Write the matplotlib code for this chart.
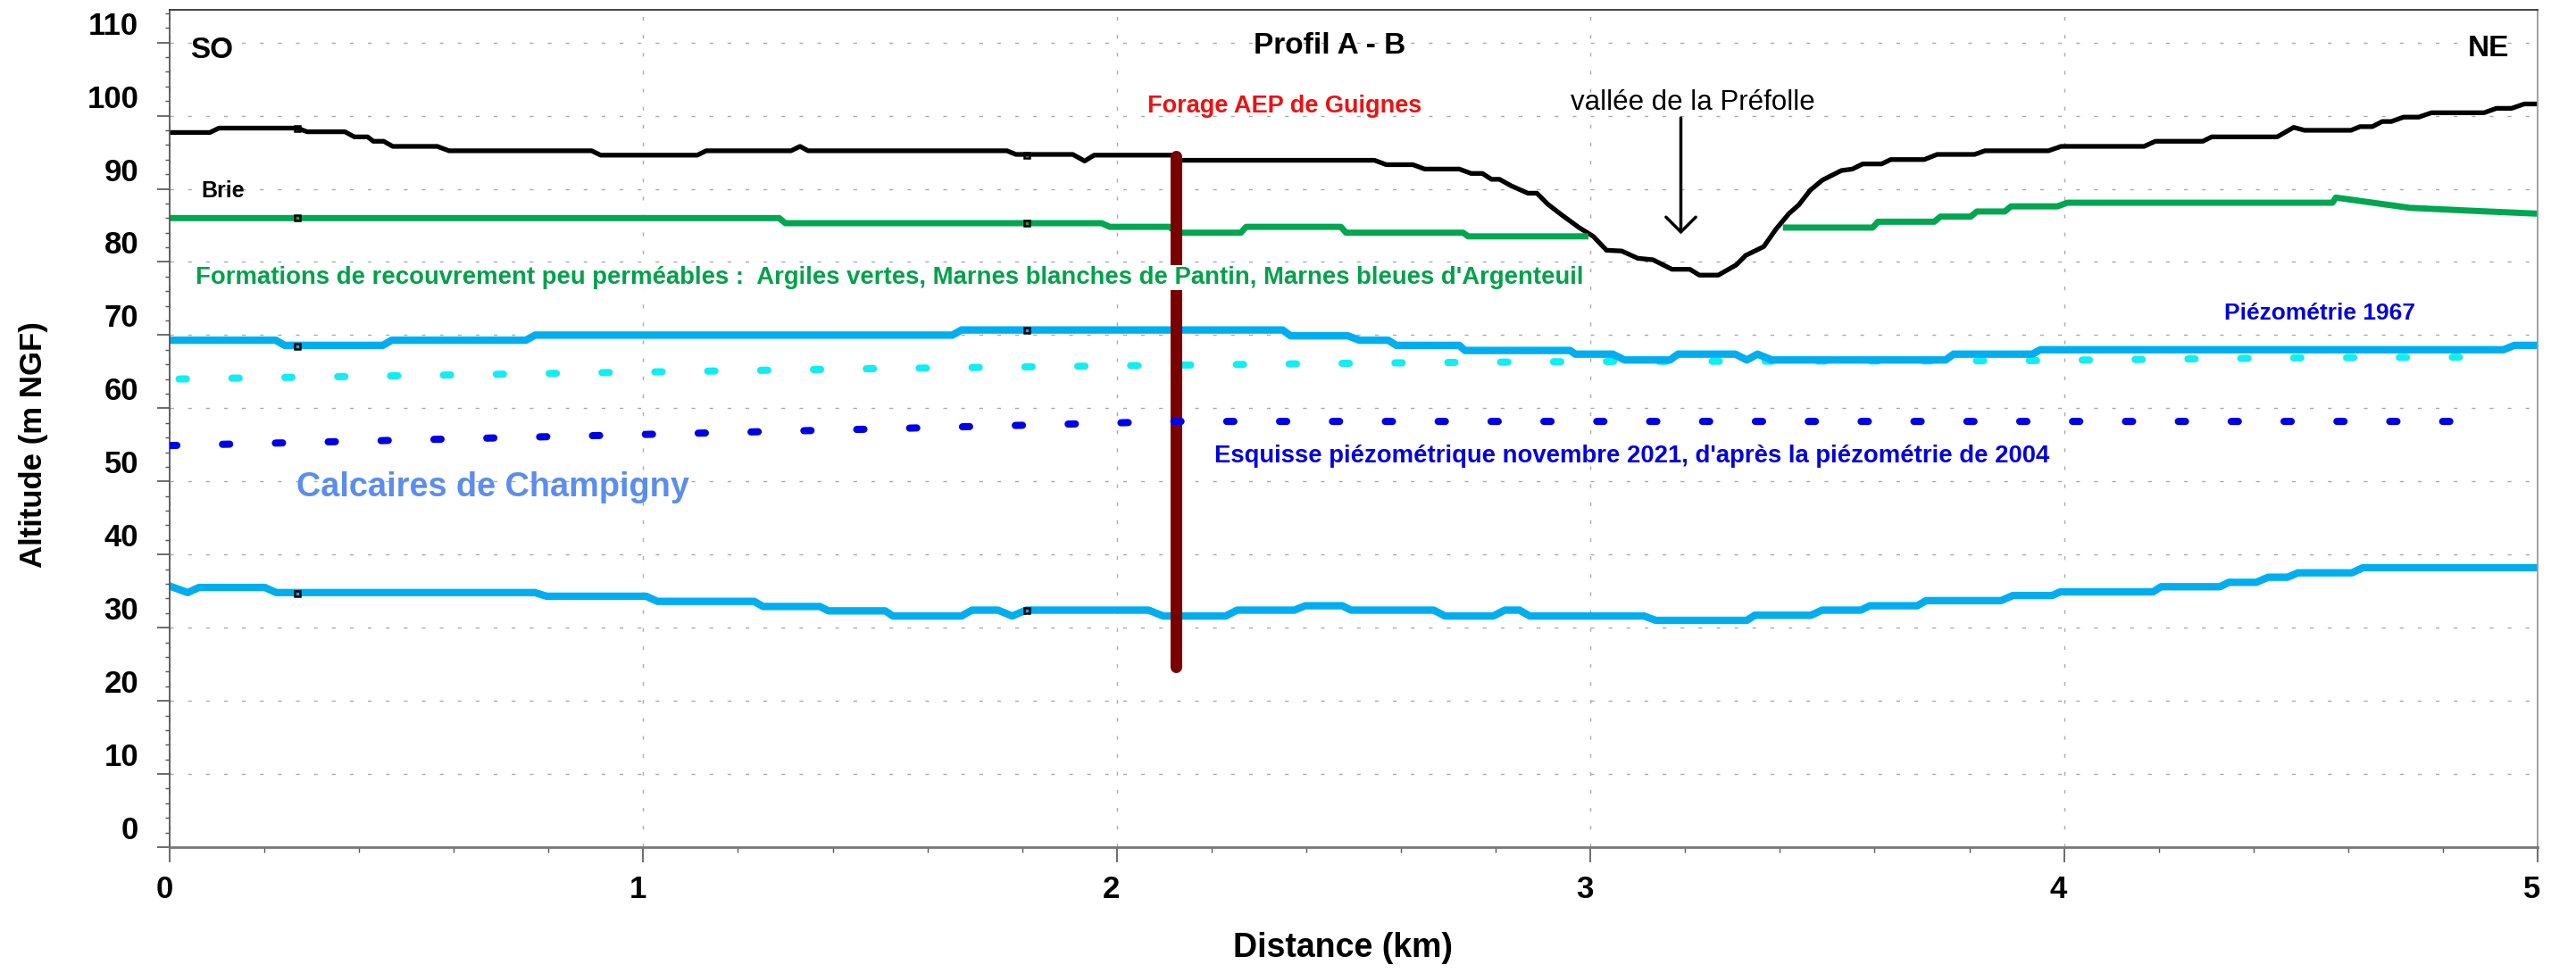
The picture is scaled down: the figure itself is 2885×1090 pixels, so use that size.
import matplotlib
matplotlib.use("Agg")
import matplotlib.pyplot as plt
import matplotlib.transforms as mtransforms
from matplotlib.ticker import MultipleLocator
import numpy as np

plt.rcParams['font.family'] = ['Liberation Sans', 'DejaVu Sans']

# terrain naturel (m NGF) le long du profil
topo_km = [0.0, 0.085, 0.104, 0.27, 0.29, 0.37, 0.39, 0.418, 0.43, 0.452,
           0.471, 0.565, 0.59, 0.891, 0.91, 1.114, 1.133, 1.312, 1.331, 1.348,
           1.768, 1.787, 1.907, 1.932, 1.952, 2.116, 2.133, 2.544, 2.569, 2.625,
           2.65, 2.723, 2.748, 2.772, 2.791, 2.808, 2.833, 2.868, 2.887, 2.91,
           2.94, 2.976, 3.006, 3.034, 3.066, 3.10, 3.132, 3.172, 3.21, 3.23,
           3.27, 3.308, 3.328, 3.366, 3.392, 3.419, 3.44, 3.464, 3.49, 3.53,
           3.553, 3.575, 3.615, 3.634, 3.705, 3.732, 3.811, 3.833, 3.967, 3.994,
           4.169, 4.193, 4.293, 4.312, 4.45, 4.485, 4.508, 4.606, 4.625, 4.651,
           4.672, 4.691, 4.717, 4.749, 4.776, 4.887, 4.913, 4.945, 4.972, 5.0]
topo_m = [97.7, 97.7, 98.3, 98.3, 97.8, 97.8, 97.1, 97.1, 96.5, 96.5,
          95.8, 95.8, 95.2, 95.2, 94.6, 94.6, 95.2, 95.2, 95.8, 95.2,
          95.2, 94.7, 94.7, 93.8, 94.6, 94.6, 93.9, 93.9, 93.3, 93.3,
          92.7, 92.7, 92.1, 92.1, 91.3, 91.3, 90.4, 89.4, 89.4, 87.9,
          86.4, 84.7, 83.5, 81.6, 81.5, 80.5, 80.3, 79.0, 79.0, 78.2,
          78.2, 79.6, 80.9, 82.1, 84.5, 86.6, 87.8, 89.8, 91.2, 92.5,
          92.7, 93.4, 93.4, 94.0, 94.0, 94.7, 94.7, 95.2, 95.2, 95.8,
          95.8, 96.5, 96.5, 97.1, 97.1, 98.4, 98.0, 98.0, 98.5, 98.5,
          99.2, 99.2, 99.8, 99.8, 100.4, 100.4, 101.0, 101.0, 101.6, 101.6]

# toit des formations de recouvrement (interrompu sous la vallee)
recouv_km = [0.0, 1.287, 1.30, 1.968, 1.985, 2.111, 2.126, 2.262, 2.273, 2.473,
             2.484, 2.731, 2.742, 2.989, np.nan, 3.413, 3.596, 3.607, 3.726, 3.739,
             3.803, 3.816, 3.875, 3.888, 3.986, 4.007, 4.567, 4.574, 4.73, 4.861, 5.0]
recouv_m = [86.0, 86.0, 85.3, 85.3, 84.8, 84.8, 84.0, 84.0, 84.8, 84.8,
            84.0, 84.0, 83.5, 83.5, np.nan, 84.7, 84.7, 85.5, 85.5, 86.2,
            86.2, 86.9, 86.9, 87.6, 87.6, 88.1, 88.1, 88.8, 87.4, 87.0, 86.6]

# toit des calcaires de Champigny
toit_km = [0.0, 0.224, 0.243, 0.45, 0.469, 0.752, 0.772, 1.653, 1.672, 2.35,
           2.367, 2.488, 2.512, 2.573, 2.59, 2.723, 2.735, 2.957, 2.968, 3.047,
           3.072, 3.168, 3.185, 3.306, 3.33, 3.353, 3.383, 3.75, 3.767, 3.933,
           3.95, 4.928, 4.951, 5.0]
toit_m = [69.3, 69.3, 68.6, 68.6, 69.3, 69.3, 70.0, 70.0, 70.7, 70.7,
          69.9, 69.9, 69.3, 69.3, 68.6, 68.6, 67.9, 67.9, 67.4, 67.4,
          66.6, 66.6, 67.4, 67.4, 66.6, 67.4, 66.6, 66.6, 67.4, 67.4,
          68.0, 68.0, 68.6, 68.6]

# base des calcaires de Champigny
base_km = [0.0, 0.038, 0.062, 0.201, 0.225, 0.771, 0.796, 1.006, 1.03, 1.234,
           1.253, 1.373, 1.391, 1.511, 1.527, 1.672, 1.694, 1.749, 1.779, 1.809,
           2.067, 2.098, 2.23, 2.254, 2.375, 2.398, 2.476, 2.494, 2.669, 2.693,
           2.795, 2.819, 2.85, 2.872, 3.113, 3.138, 3.33, 3.347, 3.466, 3.489,
           3.571, 3.59, 3.69, 3.709, 3.867, 3.892, 3.975, 3.992, 4.188, 4.205,
           4.329, 4.348, 4.406, 4.431, 4.472, 4.494, 4.608, 4.631, 5.0]
base_m = [35.7, 34.8, 35.5, 35.5, 34.8, 34.8, 34.3, 34.3, 33.6, 33.6,
          32.9, 32.9, 32.3, 32.3, 31.6, 31.6, 32.4, 32.4, 31.6, 32.4,
          32.4, 31.6, 31.6, 32.4, 32.4, 33.0, 33.0, 32.4, 32.4, 31.6,
          31.6, 32.4, 32.4, 31.6, 31.6, 31.0, 31.0, 31.7, 31.7, 32.4,
          32.4, 33.0, 33.0, 33.7, 33.7, 34.4, 34.4, 34.9, 34.9, 35.6,
          35.6, 36.2, 36.2, 36.9, 36.9, 37.5, 37.5, 38.2, 38.2]

# piezometries
piezo1967_km = [0.02, 1.47, 2.13, 2.58, 3.02, 3.9, 4.5, 4.93]
piezo1967_m = [64.0, 65.4, 65.9, 66.2, 66.4, 66.5, 66.9, 67.0]
piezo2021_km = [0.0, 1.45, 2.12, 4.91]
piezo2021_m = [54.9, 57.1, 58.2, 58.2]

# forage AEP
forage_km = [2.124, 2.124]
forage_m = [94.5, 24.7]

# petits reperes sur les couches
repere_km = [0.27, 1.81]
repere_topo = [98.3, 94.6]
repere_recouv = [86.0, 85.3]
repere_toit = [68.5, 70.6]
repere_base = [34.7, 32.4]

W, H = 2885, 1090
fig = plt.figure(figsize=(W / 100, H / 100), dpi=100)
ax = fig.add_axes([190 / W, 1 - 949 / H, (2842 - 190) / W, (949 - 11) / H])
ax.set_xlim(0, 5)
ax.set_ylim(0, 114.47)

green = '#00A651'
blue = '#00AEEF'
dotstyle = (0, (1.0, 6.35))

ax.plot(topo_km, topo_m, color='black', lw=3.8, zorder=2)
ax.plot(recouv_km, recouv_m, color=green, lw=5, zorder=2)
ax.plot(piezo1967_km, piezo1967_m, color='#11EEF2', lw=5.8, ls=dotstyle,
        dash_capstyle='round', zorder=1.5)
ax.plot(toit_km, toit_m, color=blue, lw=6, zorder=2)
ax.plot(base_km, base_m, color=blue, lw=6, zorder=2)
ax.plot(forage_km, forage_m, color='#7A0000', lw=9.4, solid_capstyle='round', zorder=3)
ax.plot(piezo2021_km, piezo2021_m, color='#0000E6', lw=5.8, ls=dotstyle,
        dash_capstyle='round', zorder=4)

for yy in (repere_topo, repere_recouv, repere_toit, repere_base):
    ax.plot(repere_km, yy, ls='none', marker='s', ms=5, mfc='none',
            mec='black', mew=1.8, zorder=3.5)

# textes
ax.text(0.043, 107.9, 'SO', fontsize=24, fontweight='bold')
ax.text(4.896, 108.1, 'NE', fontsize=24, fontweight='bold', ha='center')
ax.text(2.45, 108.5, 'Profil A - B', fontsize=24, fontweight='bold', ha='center')
ax.text(0.066, 88.8, 'Brie', fontsize=18, fontweight='bold')
ax.text(2.064, 100.4, 'Forage AEP de Guignes', fontsize=19.5, fontweight='bold',
        color='#EE1111')
ax.text(2.959, 100.8, 'vallée de la Préfolle', fontsize=22.5)
ax.annotate('', xy=(3.191, 83.8), xytext=(3.191, 99.7),
            arrowprops=dict(arrowstyle='->,head_length=0.6,head_width=0.6',
                            lw=2.5, color='black', mutation_scale=20,
                            shrinkA=0, shrinkB=0))
ax.text(0.055, 77.0,
        "Formations de recouvrement peu perméables :  Argiles vertes, "
        "Marnes blanches de Pantin, Marnes bleues d'Argenteuil",
        fontsize=19.8, fontweight='bold', color='#00A14B', zorder=5,
        bbox=dict(facecolor='white', edgecolor='none', pad=1))
ax.text(4.339, 72.1, 'Piézométrie 1967', fontsize=19, fontweight='bold',
        color='#0000DD')
ax.text(0.268, 48.0, 'Calcaires de Champigny', fontsize=27.3, fontweight='bold',
        color='#5A8DEE')
ax.text(2.205, 52.6,
        "Esquisse piézométrique novembre 2021, d'après la piézométrie de 2004",
        fontsize=19.8, fontweight='bold', color='#0000DD')

# axes, graduations, grille
ax.set_yticks(range(0, 111, 10))
ax.xaxis.set_major_locator(MultipleLocator(1))
ax.xaxis.set_minor_locator(MultipleLocator(0.2))
ax.yaxis.set_minor_locator(MultipleLocator(2))
ax.tick_params(axis='y', which='major', direction='out', length=10, width=1.1,
               color='#444444', pad=15, labelsize=25)
ax.tick_params(axis='y', which='minor', direction='out', length=3.6, width=1.0,
               color='#555555')
ax.tick_params(axis='x', which='major', direction='out', length=12, width=1.1,
               color='#444444', pad=10, labelsize=25)
ax.tick_params(axis='x', which='minor', direction='out', length=4, width=1.0,
               color='#555555')

dy = mtransforms.ScaledTranslation(0, 0.22, fig.dpi_scale_trans)
dx = mtransforms.ScaledTranslation(-0.06, 0, fig.dpi_scale_trans)
for lab in ax.get_yticklabels():
    lab.set_fontweight('bold')
    lab.set_transform(lab.get_transform() + dy)
for lab in ax.get_xticklabels():
    lab.set_fontweight('bold')
    lab.set_transform(lab.get_transform() + dx)

ax.grid(True, which='major', color='#AAAAAA', lw=1.0, ls=(0, (3, 11.5)), zorder=0)
ax.set_axisbelow(True)

ax.spines['left'].set_color('#555555')
ax.spines['top'].set_color('#333333')
ax.spines['right'].set_color('#999999')
ax.spines['bottom'].set_color('#777777')
for s in ax.spines.values():
    s.set_linewidth(1.3)
ax.spines['bottom'].set_linewidth(2)

fig.text(38 / W, 1 - 498 / H, 'Altitude (m NGF)', rotation=90, fontsize=25,
         fontweight='bold', ha='center', va='center')
fig.text(1504 / W, 1 - 1062 / H, 'Distance (km)', fontsize=27,
         fontweight='bold', ha='center', va='center')

fig.savefig('out.png', dpi=100)
